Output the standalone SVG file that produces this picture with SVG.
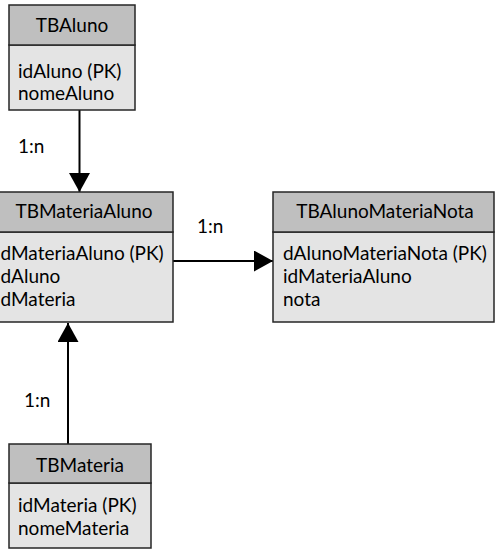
<svg xmlns="http://www.w3.org/2000/svg" width="495" height="550" viewBox="0 0 495 550">
<style>
.hd{fill:#bfbfbf;stroke:#262626;stroke-width:1.5}
.bd{fill:#e4e4e4;stroke:#262626;stroke-width:1.5}
text{font-family:Lato,"Liberation Sans",sans-serif;font-size:19px;fill:#000}
.c{text-anchor:middle}
.ln{stroke:#000;stroke-width:2;fill:none}
</style>
<defs>
<marker id="ah" markerUnits="userSpaceOnUse" markerWidth="20" markerHeight="22" refX="19" refY="10.5" orient="auto">
<path d="M0,0 L19,10.5 L0,21 Z" fill="#000"/>
</marker>
</defs>
<rect width="495" height="550" fill="#fff"/>
<g id="connectors">
<line class="ln" x1="79.5" y1="110" x2="79.5" y2="192" marker-end="url(#ah)"/>
<line class="ln" x1="173" y1="261" x2="273" y2="261" marker-end="url(#ah)"/>
<line class="ln" x1="68" y1="444" x2="68" y2="323" marker-end="url(#ah)"/>
<text x="18" y="153">1:n</text>
<text x="197" y="233">1:n</text>
<text x="24" y="407">1:n</text>
</g>
<g id="TBAluno">
<rect class="bd" x="9" y="45" width="126" height="65"/>
<rect class="hd" x="9" y="5" width="126" height="40"/>
<text class="c" x="72" y="32">TBAluno</text>
<text x="18" y="78">idAluno (PK)</text>
<text x="18" y="100">nomeAluno</text>
</g>
<g id="TBMateriaAluno">
<rect class="bd" x="-13" y="232" width="186" height="90"/>
<rect class="hd" x="-13" y="192" width="186" height="40"/>
<text class="c" x="84" y="218">TBMateriaAluno</text>
<text x="0.5" y="260">dMateriaAluno (PK)</text>
<text x="0.5" y="283">dAluno</text>
<text x="0.5" y="306">dMateria</text>
</g>
<g id="TBAlunoMateriaNota">
<rect class="bd" x="273" y="232" width="221" height="90"/>
<rect class="hd" x="273" y="192" width="221" height="40"/>
<text class="c" x="385" y="218">TBAlunoMateriaNota</text>
<text x="283" y="260">dAlunoMateriaNota (PK)</text>
<text x="283" y="283">idMateriaAluno</text>
<text x="283" y="306">nota</text>
</g>
<g id="TBMateria">
<rect class="bd" x="9" y="483" width="142" height="65"/>
<rect class="hd" x="9" y="444" width="142" height="39"/>
<text class="c" x="80" y="472">TBMateria</text>
<text x="18" y="512">idMateria (PK)</text>
<text x="18" y="535">nomeMateria</text>
</g>
</svg>
